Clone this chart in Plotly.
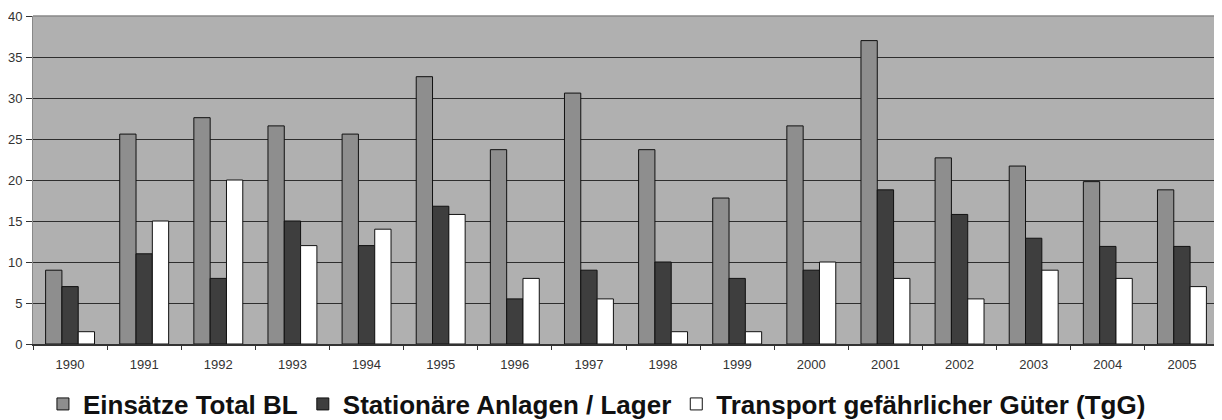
import plotly.graph_objects as go

years = ["1990", "1991", "1992", "1993", "1994", "1995", "1996", "1997",
         "1998", "1999", "2000", "2001", "2002", "2003", "2004", "2005"]
einsaetze_total = [9, 25.6, 27.6, 26.6, 25.6, 32.6, 23.7, 30.6,
                   23.7, 17.8, 26.6, 37, 22.7, 21.7, 19.8, 18.8]
stationaer = [7, 11, 8, 15, 12, 16.8, 5.5, 9,
              10, 8, 9, 18.8, 15.8, 12.9, 11.9, 11.9]
transport = [1.5, 15, 20, 12, 14, 15.8, 8, 5.5,
             1.5, 1.5, 10, 8, 5.5, 9, 8, 7]

series_names = ["Einsätze Total BL", "Stationäre Anlagen / Lager",
                "Transport gefährlicher Güter (TgG)"]
series_colors = ["#8e8e8e", "#3e3e3e", "#ffffff"]

fig = go.Figure()
for name, vals, col in zip(series_names, [einsaetze_total, stationaer, transport], series_colors):
    fig.add_trace(go.Bar(
        x=years, y=vals, name=name,
        marker=dict(color=col, line=dict(color="#111111", width=1)),
    ))

# page body has an 8px margin, so the figure is sized to fill the rest of the window
fig.update_layout(
    width=1214, height=412,
    barmode="group", bargap=0.34, bargroupgap=0,
    plot_bgcolor="#b0b0b0", paper_bgcolor="#ffffff",
    margin=dict(l=25, r=3, t=8, b=76, autoexpand=False),
    font=dict(family="Liberation Sans, Arial, sans-serif", color="#222222"),
    legend=dict(
        orientation="h", x=0.4755, xanchor="center", y=-0.183, yanchor="middle",
        font=dict(size=26, family="Liberation Sans, Arial, sans-serif", color="#111111", weight="bold"),
        itemwidth=30, tracegroupgap=0,
        bgcolor="rgba(0,0,0,0)",
    ),
    showlegend=True,
)
fig.update_xaxes(
    type="category", tickson="boundaries", ticks="outside", ticklen=4,
    tickcolor="#333333", showline=True, linecolor="#333333", linewidth=1.5,
    tickfont=dict(size=13, color="#333333"), showgrid=False,
    automargin=False, ticklabelstandoff=8,
)
fig.update_yaxes(
    range=[0, 40], dtick=5, showgrid=True, gridcolor="#2e2e2e", gridwidth=1.3,
    ticks="outside", ticklen=6, tickcolor="#333333",
    showline=True, linecolor="#888888", linewidth=1,
    tickfont=dict(size=13, color="#333333"), zeroline=False,
    automargin=False, ticklabelstandoff=1,
)
fig.add_shape(type="line", xref="paper", yref="paper", x0=0, x1=1, y0=1, y1=1,
              line=dict(color="#888888", width=1.5))

fig.write_html("out.html")
